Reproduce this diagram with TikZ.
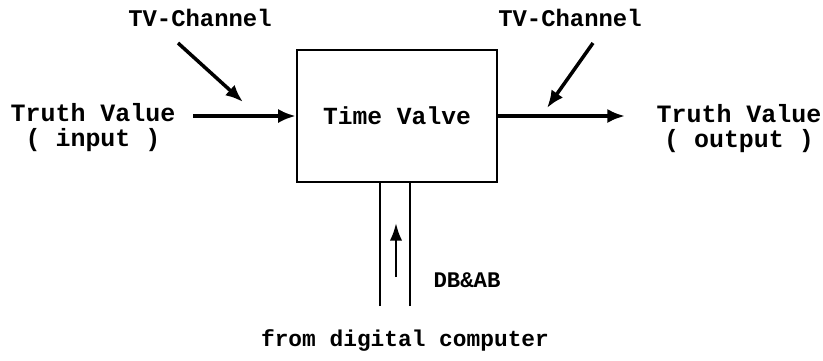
\documentclass[tikz,border=0pt]{standalone}
\usepackage{fontspec}
\setmonofont{Liberation Mono}
\usepackage{tikz}
\usetikzlibrary{arrows.meta, positioning}

\begin{document}
\begin{tikzpicture}[x=0.02cm, y=-0.02cm,
  vbox/.style={draw, line width=1.4pt, minimum width=4cm, minimum height=2.64cm, inner sep=0pt},
  lbl/.style={font=\ttfamily\bfseries\fontsize{14.2}{14.2}\selectfont, align=center, inner sep=0pt},
  flow/.style={line width=2pt, -{Latex[length=10pt, width=8pt]}}
]
  \useasboundingbox (0,0) rectangle (823,360);

  % the valve itself
  \node[vbox, lbl, font=\ttfamily\bfseries\fontsize{14}{14}\selectfont] (valve) at (397,116) {Time Valve};

  % truth values in and out
  \node[lbl] (tvin) at (93,128) {Truth Value\\( input )};
  \node[lbl] (tvout) at (739,129) {Truth Value\\( output )};
  \coordinate (inA) at (193,116);
  \coordinate (outA) at (625,116);
  \draw[flow] (inA) -- (valve.west);
  \draw[flow] (valve.east) -- (outA);

  % TV channels
  \node[lbl, font=\ttfamily\bfseries\fontsize{13.6}{14}\selectfont] (chL) at (200,18) {TV-Channel};
  \node[lbl, font=\ttfamily\bfseries\fontsize{13.6}{14}\selectfont] (chR) at (570,18) {TV-Channel};
  \coordinate (chLa) at (178,43);
  \coordinate (chLb) at (243,102);
  \coordinate (chRa) at (593,43);
  \coordinate (chRb) at (547,108);
  \draw[flow] (chLa) -- (chLb);
  \draw[flow] (chRa) -- (chRb);

  % data and address bus
  \coordinate (busL) at (380,306);
  \coordinate (busR) at (410,306);
  \draw[line width=1.4pt] (busL) -- (busL |- valve.south);
  \draw[line width=1.4pt] (busR) -- (busR |- valve.south);
  \coordinate (busA) at (396,277);
  \coordinate (busB) at (396,223);
  \draw[line width=1.4pt, -{Latex[length=10pt, width=7pt]}] (busA) -- (busB);
  \node[lbl, font=\ttfamily\bfseries\fontsize{12.7}{14}\selectfont] (bus) at (467,280) {DB\&AB};
  \node[lbl, font=\ttfamily\bfseries\fontsize{13}{14}\selectfont] (src) at (405,340) {from digital computer};
\end{tikzpicture}
\end{document}
